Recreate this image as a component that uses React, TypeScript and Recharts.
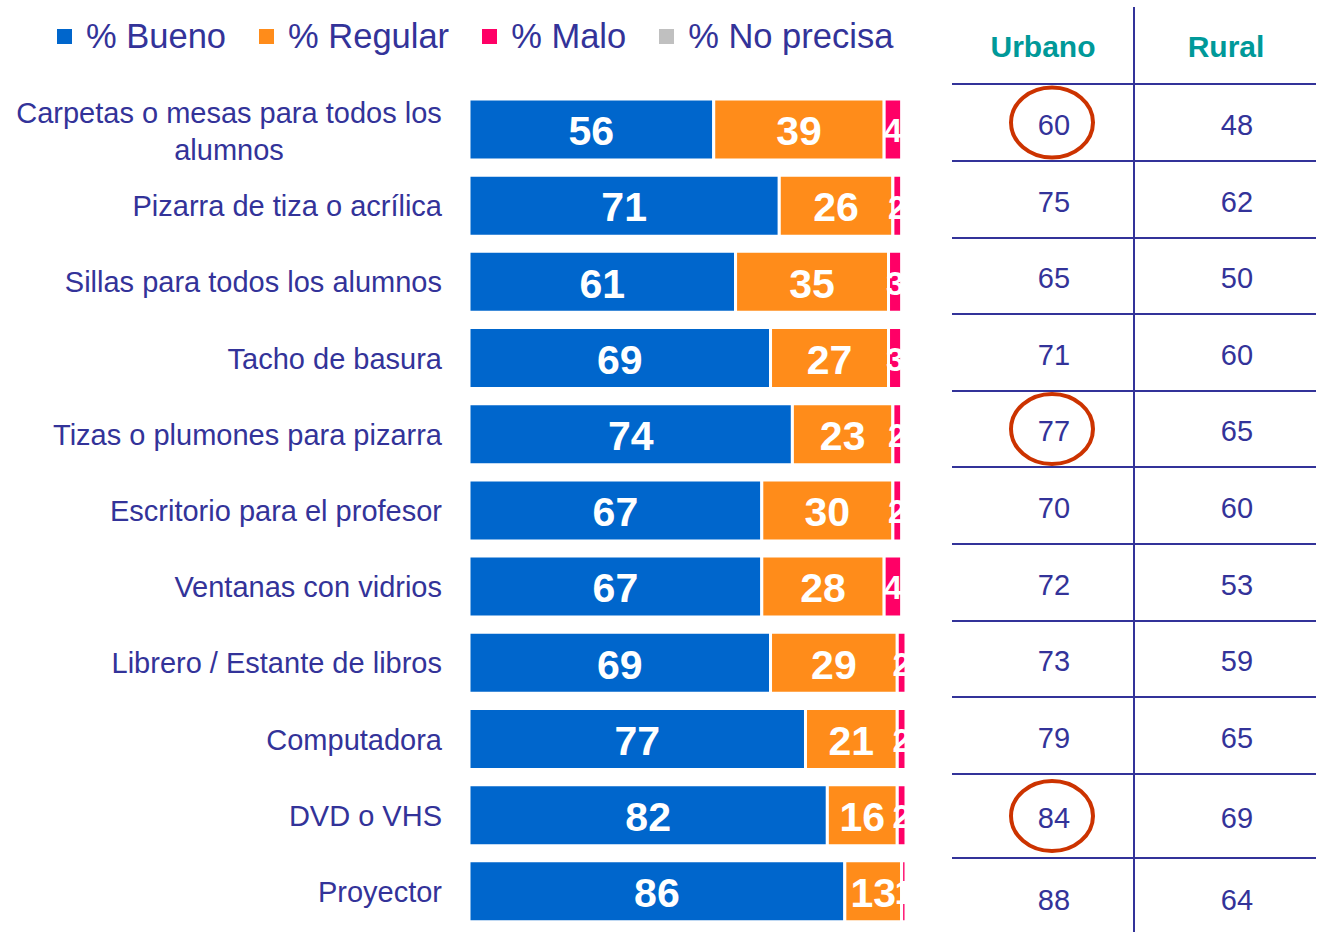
import React from "react";
import { BarChart, Bar, XAxis, YAxis, Legend, LabelList } from "recharts";

const categories = [
  "Carpetas o mesas para todos los alumnos",
  "Pizarra de tiza o acrílica",
  "Sillas para todos los alumnos",
  "Tacho de basura",
  "Tizas o plumones para pizarra",
  "Escritorio para el profesor",
  "Ventanas con vidrios",
  "Librero / Estante de libros",
  "Computadora",
  "DVD o VHS",
  "Proyector",
];
const bueno = [56, 71, 61, 69, 74, 67, 67, 69, 77, 82, 86];
const regular = [39, 26, 35, 27, 23, 30, 28, 29, 21, 16, 13];
const malo = [4, 2, 3, 3, 2, 2, 4, 2, 2, 2, 1];
const noPrecisa = [0, 0, 0, 0, 0, 0, 0, 0, 0, 0, 0];
const urbano = [60, 75, 65, 71, 77, 70, 72, 73, 79, 84, 88];
const rural = [48, 62, 50, 60, 65, 60, 53, 59, 65, 69, 64];
const highlighted = [true, false, false, false, true, false, false, false, false, true, false];
const tableHeaders = ["Urbano", "Rural"];

const seriesKeys = ["bueno", "regular", "malo", "noPrecisa"];
const seriesNames = ["% Bueno", "% Regular", "% Malo", "% No precisa"];
const seriesColors = ["#0066CC", "#FF8C1A", "#FF0066", "#C0C0C0"];

const TEXT = "#333399";
const TEAL = "#009999";
const RED = "#CC3300";
const FONT = "Arial, 'Liberation Sans', sans-serif";

const data = categories.map((name, i) => ({
  name,
  bueno: bueno[i],
  regular: regular[i],
  malo: malo[i],
  noPrecisa: noPrecisa[i],
}));

// layout
const CHART_W = 908;
const CHART_H = 932;
const tableLines = [84, 161, 238, 314, 391, 467, 544, 621, 697, 774, 858];
const tableBottom = 938;

function wrap(text: string, maxChars: number): string[] {
  const words = text.split(" ");
  const lines: string[] = [];
  let cur = "";
  for (const w of words) {
    const next = cur ? cur + " " + w : w;
    if (next.length > maxChars && cur) {
      lines.push(cur);
      cur = w;
    } else cur = next;
  }
  if (cur) lines.push(cur);
  return lines;
}

const CategoryTick = (props: any) => {
  const { x, y, payload } = props;
  const lines = wrap(String(payload.value), 31);
  if (lines.length === 1) {
    return (
      <text x={x} y={y + 11} textAnchor="end" fill={TEXT} fontSize={29} fontFamily={FONT}>
        {lines[0]}
      </text>
    );
  }
  return (
    <text x={x - 213} y={y} textAnchor="middle" fill={TEXT} fontSize={29} fontFamily={FONT}>
      <tspan x={x - 213} y={y - 6}>{lines[0]}</tspan>
      <tspan x={x - 213} y={y + 31}>{lines[1]}</tspan>
    </text>
  );
};

const makeLabel = (fs: number) => (props: any) => {
  const { x, y, width, height, value } = props;
  if (!value) return null;
  return (
    <text
      x={x + width / 2}
      y={y + height / 2 + fs * 0.36 + 1}
      textAnchor="middle"
      fill="#ffffff"
      fontSize={fs}
      fontWeight="bold"
      fontFamily={FONT}
    >
      {value}
    </text>
  );
};

const LegendContent = () => (
  <div
    style={{
      height: 70,
      display: "flex",
      alignItems: "flex-start",
      paddingLeft: 57,
      fontFamily: FONT,
      boxSizing: "border-box",
      whiteSpace: "nowrap",
    }}
  >
    {seriesNames.map((n, i) => (
      <div key={n} style={{ display: "flex", alignItems: "center", marginRight: 33, marginTop: -5 }}>
        <span style={{ width: 15, height: 15, background: seriesColors[i], display: "inline-block", marginRight: 14 }} />
        <span style={{ fontSize: 34.5, color: TEXT, lineHeight: "40px" }}>{n}</span>
      </div>
    ))}
  </div>
);

const Table = () => {
  const centers = categories.map((_, i) =>
    i < tableLines.length - 1 ? (tableLines[i] + tableLines[i + 1]) / 2 : (tableLines[i] + tableBottom) / 2
  );
  const colX = [1054, 1237];
  return (
    <svg width={1318} height={932} style={{ position: "absolute", left: 0, top: 0, pointerEvents: "none" }}>
      <line x1={1134} x2={1134} y1={7} y2={932} stroke={TEXT} strokeWidth={2} />
      {tableLines.map((ly) => (
        <line key={ly} x1={952} x2={1316} y1={ly} y2={ly} stroke={TEXT} strokeWidth={2} />
      ))}
      <text x={1043} y={57} textAnchor="middle" fill={TEAL} fontSize={30} fontWeight="bold" fontFamily={FONT}>
        {tableHeaders[0]}
      </text>
      <text x={1226} y={57} textAnchor="middle" fill={TEAL} fontSize={30} fontWeight="bold" fontFamily={FONT}>
        {tableHeaders[1]}
      </text>
      {categories.map((_, i) => (
        <g key={i}>
          <text x={colX[0]} y={centers[i] + 12} textAnchor="middle" fill={TEXT} fontSize={29} fontFamily={FONT}>
            {urbano[i]}
          </text>
          <text x={colX[1]} y={centers[i] + 12} textAnchor="middle" fill={TEXT} fontSize={29} fontFamily={FONT}>
            {rural[i]}
          </text>
          {highlighted[i] && (
            <ellipse cx={1052} cy={centers[i]} rx={41} ry={35} fill="none" stroke={RED} strokeWidth={4} />
          )}
        </g>
      ))}
    </svg>
  );
};

export default function App() {
  return (
    <div style={{ position: "fixed", left: 0, top: 0, width: 1318, height: 932, background: "#fff", overflow: "hidden" }}>
      <div style={{ position: "absolute", left: 0, top: 0 }}>
        <BarChart
          width={CHART_W}
          height={CHART_H}
          data={data}
          layout="vertical"
          margin={{ top: 21, right: 2, bottom: 3, left: 0 }}
          barSize={61}
        >
          <XAxis type="number" domain={[0, 100]} hide />
          <YAxis
            type="category"
            dataKey="name"
            width={469}
            axisLine={false}
            tickLine={false}
            tickSize={0}
            tickMargin={27}
            tick={<CategoryTick />}
            interval={0}
          />
          <Legend verticalAlign="top" align="left" content={<LegendContent />} />
          {seriesKeys.map((k, i) => (
            <Bar
              key={k}
              dataKey={k}
              name={seriesNames[i]}
              stackId="a"
              fill={seriesColors[i]}
              stroke="#ffffff"
              strokeWidth={3}
              isAnimationActive={false}
            >
              {k !== "noPrecisa" && <LabelList dataKey={k} content={makeLabel(k === "malo" ? 33 : 41)} />}
            </Bar>
          ))}
        </BarChart>
      </div>
      <Table />
    </div>
  );
}
